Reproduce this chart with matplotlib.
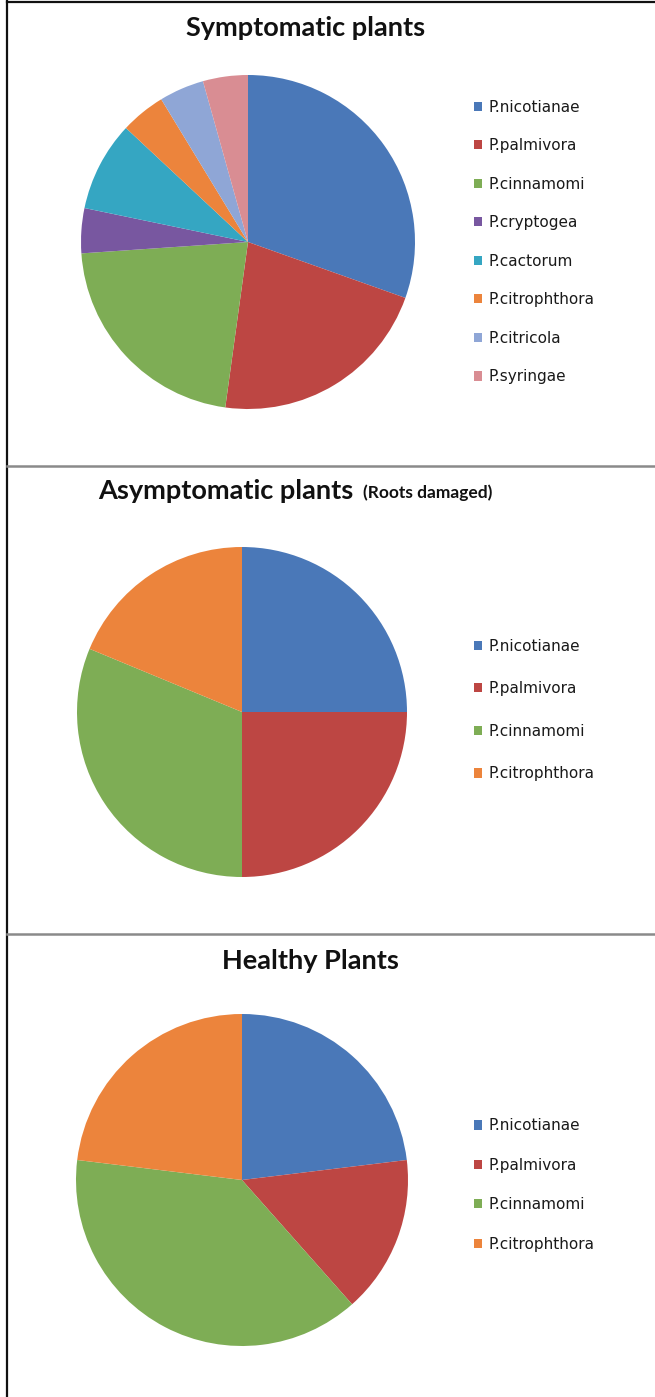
import matplotlib
matplotlib.use("Agg")
import matplotlib.pyplot as plt
from matplotlib.lines import Line2D

W, H = 655, 1397

# isolate counts per plant group
sym_species = ['P.nicotianae', 'P.palmivora', 'P.cinnamomi', 'P.cryptogea',
               'P.cactorum', 'P.citrophthora', 'P.citricola', 'P.syringae']
sym_counts = [7, 5, 5, 1, 2, 1, 1, 1]

asym_species = ['P.nicotianae', 'P.palmivora', 'P.cinnamomi', 'P.citrophthora']
asym_counts = [4, 4, 5, 3]

healthy_species = ['P.nicotianae', 'P.palmivora', 'P.cinnamomi', 'P.citrophthora']
healthy_counts = [3, 2, 5, 3]

colors = {
    'P.nicotianae': '#4A78B8',
    'P.palmivora': '#BD4643',
    'P.cinnamomi': '#7EAD55',
    'P.cryptogea': '#7857A0',
    'P.cactorum': '#35A6C2',
    'P.citrophthora': '#EC843C',
    'P.citricola': '#8FA6D6',
    'P.syringae': '#D98D93',
}

fig = plt.figure(figsize=(W / 100, H / 100), dpi=100)
fig.patch.set_facecolor('white')


def px(x, y):
    return x / W, 1 - y / H


def pie_panel(species, counts, cx, cy, r, leg_y, spacing):
    ax = fig.add_axes([(cx - r) / W, 1 - (cy + r) / H, 2 * r / W, 2 * r / H])
    wedges, _ = ax.pie(counts, colors=[colors[s] for s in species],
                       startangle=90, counterclock=False, radius=1,
                       wedgeprops=dict(linewidth=0))
    ax.set_xlim(-1, 1)
    ax.set_ylim(-1, 1)
    ax.set_aspect('equal')
    ax.axis('off')
    fig.legend(wedges, species, loc='center left', bbox_to_anchor=px(474, leg_y),
               frameon=False, borderpad=0, borderaxespad=0,
               handlelength=0.55, handleheight=0.55, handletextpad=0.4,
               labelspacing=spacing, labelcolor='#1a1a1a',
               prop=dict(family='DejaVu Sans', size=11))


pie_panel(sym_species, sym_counts, 248, 242, 167, 242, 1.54)
pie_panel(asym_species, asym_counts, 242, 712, 165, 710, 1.81)
pie_panel(healthy_species, healthy_counts, 242, 1180, 166, 1185, 1.6)

tfont = dict(family='Lato', weight='bold', color='#111111')
fig.text(*px(306, 28), 'Symptomatic plants', ha='center', va='center', size=19.5, **tfont)
fig.text(*px(98, 491), 'Asymptomatic plants', ha='left', va='center', size=19.5, **tfont)
fig.text(*px(363, 493), '(Roots damaged)', ha='left', va='center', size=12.5, **tfont)
fig.text(*px(310, 961), 'Healthy Plants', ha='center', va='center', size=19.5, **tfont)

# frame and panel separators
fig.add_artist(Line2D([7 / W, 7 / W], [0, 1], color='#111111', lw=1.6))
fig.add_artist(Line2D([7 / W, 1], [1 - 1.5 / H, 1 - 1.5 / H], color='#111111', lw=1.6))
for yy in (466, 934):
    fig.add_artist(Line2D([7 / W, 1], [1 - yy / H] * 2, color='#8a8a8a', lw=1.8))

fig.savefig('out.png', dpi=100, facecolor='white')
